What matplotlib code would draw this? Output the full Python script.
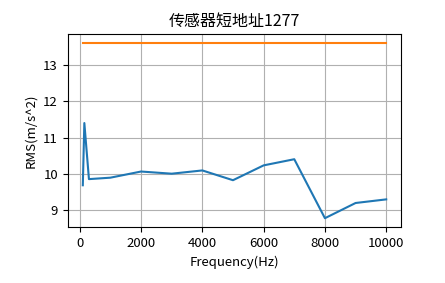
import matplotlib
matplotlib.use("Agg")
import matplotlib.pyplot as plt

plt.rcParams['font.family'] = ['Noto Sans CJK SC', 'DejaVu Sans']
plt.rcParams['axes.unicode_minus'] = False

freq = [100, 150, 300, 1000, 2000, 3000, 4000, 5000, 6000, 7000, 8000, 9000, 10000]
rms = [9.68, 11.4, 9.85, 9.89, 10.06, 10.0, 10.09, 9.82, 10.23, 10.4, 8.77, 9.19, 9.29]
limit_x = [100, 10000]
limit_y = [13.62, 13.62]

fig = plt.figure(figsize=(4.45, 2.83), dpi=100)
ax = fig.add_axes([0.152, 0.198, 0.750, 0.682])
ax.plot(freq, rms, color='#1f77b4')
ax.plot(limit_x, limit_y, color='#ff7f0e')
ax.set_title('传感器短地址1277', fontsize=11.5)
ax.set_xlabel('Frequency(Hz)', fontsize=9.5)
ax.set_ylabel('RMS(m/s^2)', fontsize=9.5)
ax.tick_params(labelsize=9.5)
ax.grid(True)
fig.savefig('out.png', dpi=100)
